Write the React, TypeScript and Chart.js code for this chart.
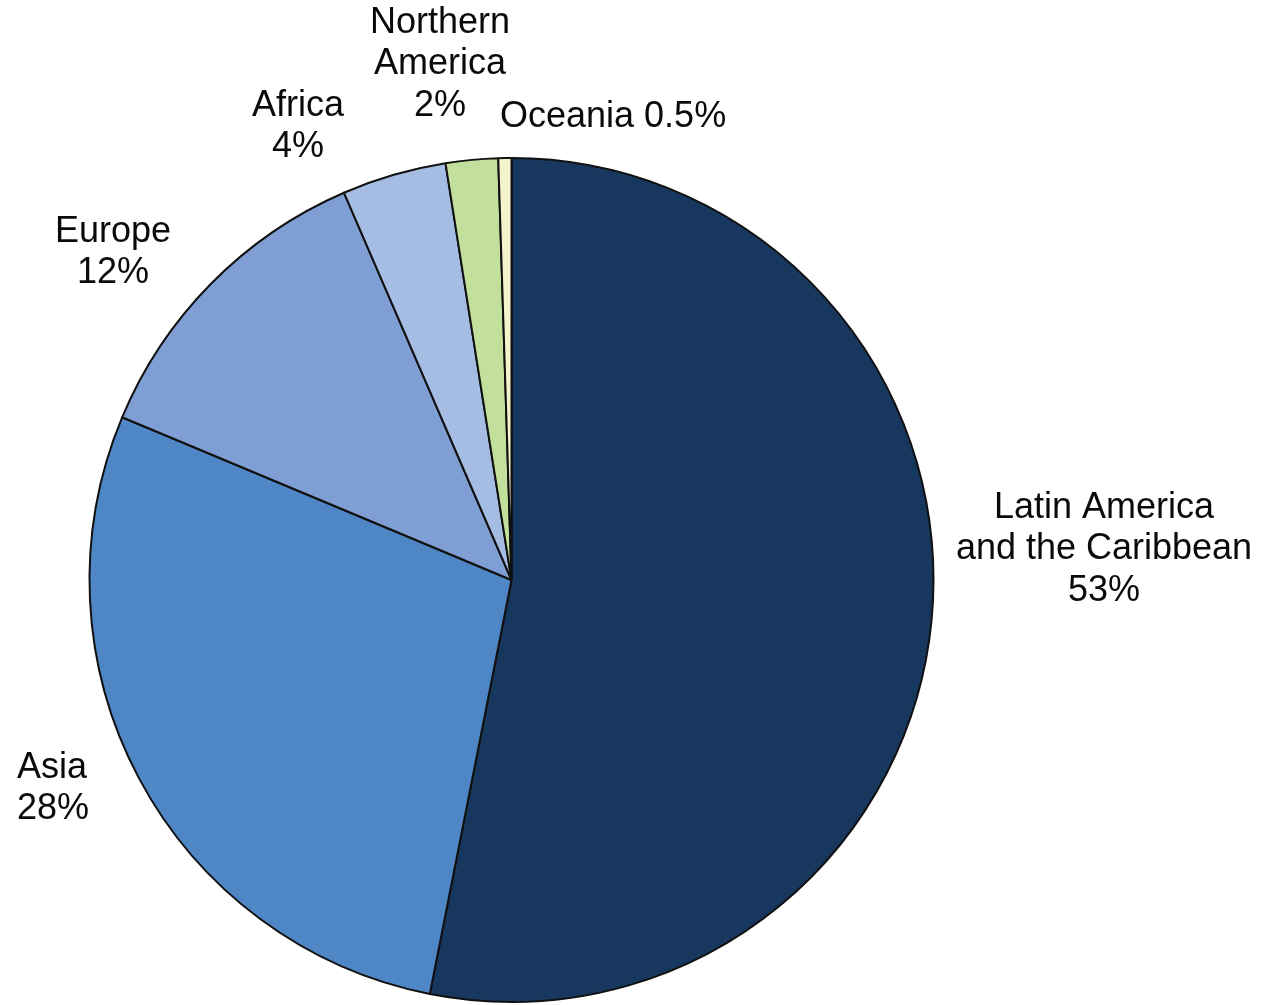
import React, { useEffect, useRef } from "react";
import { Chart, registerables } from "chart.js";

Chart.register(...registerables);

const CATEGORIES = [
  "Latin America and the Caribbean",
  "Asia",
  "Europe",
  "Africa",
  "Northern America",
  "Oceania",
];
const VALUES = [53.1, 28.2, 12.2, 4.0, 2.0, 0.5];
const PERCENT_LABELS = ["53%", "28%", "12%", "4%", "2%", "0.5%"];
const LABEL_LINES = [
  ["Latin America", "and the Caribbean", PERCENT_LABELS[0]],
  ["Asia", PERCENT_LABELS[1]],
  ["Europe", PERCENT_LABELS[2]],
  ["Africa", PERCENT_LABELS[3]],
  ["Northern", "America", PERCENT_LABELS[4]],
  ["Oceania " + PERCENT_LABELS[5]],
];
const COLORS = ["#17375E", "#4F86C6", "#7F9ED3", "#A6BDE3", "#C3DF9C", "#F4F4CC"];

// label layout: [x, y of first line center, align]
const LABEL_POS: [number, number, CanvasTextAlign][] = [
  [1104, 508, "center"],
  [17, 768, "left"],
  [113, 232, "center"],
  [298, 106, "center"],
  [440, 23, "center"],
  [500, 117, "left"],
];

const labelPlugin = {
  id: "outerLabels",
  afterDraw(chart: any) {
    const ctx = chart.ctx;
    ctx.save();
    ctx.fillStyle = "#0a0a0a";
    ctx.font = '36px "Liberation Sans", Arial, sans-serif';
    ctx.textBaseline = "middle";
    LABEL_LINES.forEach((lines, i) => {
      const [x, y, align] = LABEL_POS[i];
      ctx.textAlign = align;
      lines.forEach((line, j) => {
        ctx.fillText(line, x, y + j * 41.5);
      });
    });
    ctx.restore();
  },
};

export default function App() {
  const ref = useRef<HTMLCanvasElement>(null);
  useEffect(() => {
    if (!ref.current) return;
    const chart = new Chart(ref.current, {
      type: "pie",
      data: {
        labels: CATEGORIES,
        datasets: [
          {
            data: VALUES,
            backgroundColor: COLORS,
            borderColor: "#111",
            borderWidth: 2,
          },
        ],
      },
      options: {
        responsive: false,
        animation: false,
        layout: { padding: { left: 88, right: 326, top: 157, bottom: 2 } },
        plugins: {
          legend: { display: false },
          tooltip: { enabled: false },
        },
      },
      plugins: [labelPlugin],
    });
    return () => chart.destroy();
  }, []);
  return (
    <div style={{ position: "fixed", left: 0, top: 0, background: "#fff" }}>
      <canvas ref={ref} width={1261} height={1005} />
    </div>
  );
}
